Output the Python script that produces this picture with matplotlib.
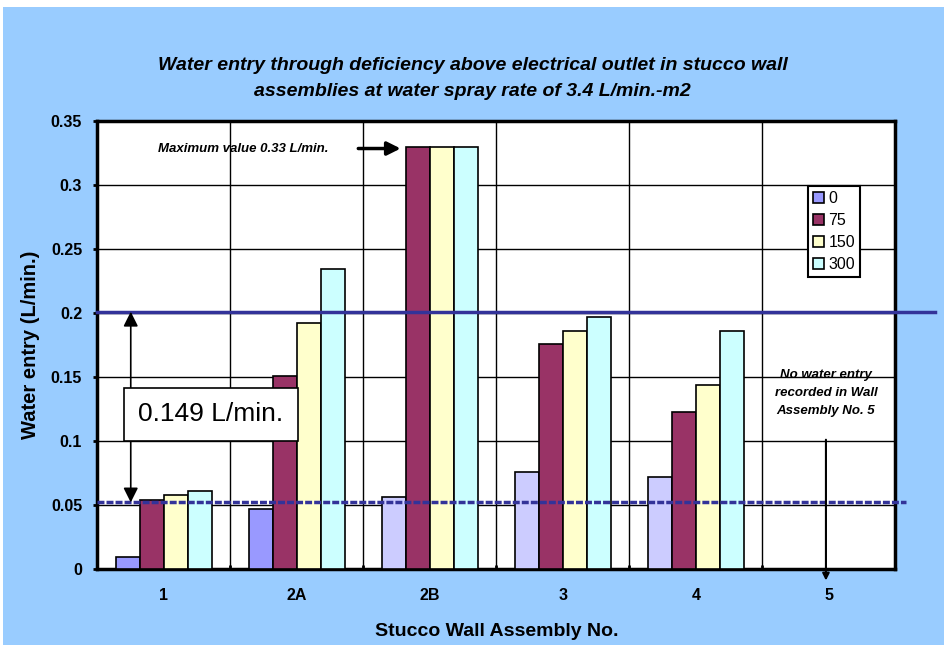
import numpy as np
import matplotlib.pyplot as plt
from matplotlib.patches import Rectangle

# данные
assemblies = ["1", "2A", "2B", "3", "4", "5"]
series_names = ["0", "75", "150", "300"]
vals_0 = [0.009, 0.047, 0.056, 0.076, 0.072, 0.0]
vals_75 = [0.054, 0.151, 0.330, 0.176, 0.123, 0.0]
vals_150 = [0.058, 0.192, 0.330, 0.186, 0.144, 0.0]
vals_300 = [0.061, 0.234, 0.330, 0.197, 0.186, 0.0]
upper_line = 0.201
lower_line = 0.052

colors = ["#9999FF", "#993366", "#FFFFCC", "#CCFFFF"]
light_0 = "#CCCCFF"

plt.rcParams["font.family"] = ["Liberation Sans", "DejaVu Sans"]

fig = plt.figure(figsize=(9.45, 6.45), dpi=100)
fig.patch.set_facecolor("white")
# голубой фон
fig.add_artist(Rectangle((3 / 945, 0), 1, 1 - 7 / 645, transform=fig.transFigure,
                         facecolor="#99CCFF", edgecolor="none", zorder=-10))

ax = fig.add_axes([97.5 / 945, 1 - 569 / 645, 798 / 945, 448 / 645])
ax.set_facecolor("white")

x = np.arange(len(assemblies))
w = 0.18
all_vals = [vals_0, vals_75, vals_150, vals_300]
for i, (name, v) in enumerate(zip(series_names, all_vals)):
    fc = colors[i]
    if i == 0:
        fc = [colors[0] if k < 2 else light_0 for k in range(len(v))]
    ax.bar(x + (i - 1.5) * w, v, width=w, color=fc, edgecolor="black",
           linewidth=1.2, label=name, zorder=3)

ax.set_xlim(-0.5, len(assemblies) - 0.5)
ax.set_ylim(0, 0.35)
ax.set_yticks(np.arange(0, 0.351, 0.05))
ax.set_yticklabels(["0", "0.05", "0.1", "0.15", "0.2", "0.25", "0.3", "0.35"])
ax.set_xticks(x)
ax.set_xticklabels(assemblies)
ax.set_xticks(x[:-1] + 0.5, minor=True)
ax.grid(True, which="minor", axis="x", color="black", linewidth=1)
ax.grid(True, which="major", axis="y", color="black", linewidth=1)
ax.set_axisbelow(True)
ax.tick_params(axis="x", which="major", length=0, pad=14)
ax.tick_params(axis="x", which="minor", length=3, direction="in", width=2)
ax.tick_params(axis="y", length=3, width=2, pad=8)
for lab in ax.get_xticklabels() + ax.get_yticklabels():
    lab.set_fontweight("bold")
    lab.set_fontsize(11.5)
for s in ax.spines.values():
    s.set_linewidth(2.5)

ax.set_xlabel("Stucco Wall Assembly No.", fontsize=14, fontweight="bold", labelpad=14)
ax.set_ylabel("Water entry (L/min.)", fontsize=14.5, fontweight="bold", labelpad=8)

fig.text(0.5, 1 - 65 / 645,
         "Water entry through deficiency above electrical outlet in stucco wall",
         ha="center", va="center", fontsize=14, fontweight="bold", style="italic")
fig.text(0.5, 1 - 92 / 645, "assemblies at water spray rate of 3.4 L/min.-m2",
         ha="center", va="center", fontsize=14, fontweight="bold", style="italic")

# горизонтальные линии
ax.plot([0, 1.0495], [upper_line, upper_line], transform=ax.get_yaxis_transform(),
        color="#333399", linewidth=2.5, clip_on=False, zorder=5)
ax.plot([0, 1.013], [lower_line, lower_line], transform=ax.get_yaxis_transform(),
        color="#333399", linewidth=2.5, linestyle=(0, (2, 0.6)), clip_on=False, zorder=5)

# двойная стрелка и подпись разницы
ax.annotate("", xy=(-0.25, upper_line), xytext=(-0.25, lower_line),
            arrowprops=dict(arrowstyle="<|-|>", color="black", lw=1.2,
                            mutation_scale=22, shrinkA=0, shrinkB=0), zorder=6)
ax.text(0.353, 0.121, "%.3f L/min." % (upper_line - lower_line), ha="center", va="center",
        fontsize=19, zorder=7,
        bbox=dict(boxstyle="square,pad=0.55", facecolor="white", edgecolor="black", lw=1.2))

# максимум
ax.text(0.594, 0.3285, "Maximum value 0.33 L/min.", ha="center", va="center",
        fontsize=9.5, fontweight="bold", style="italic", zorder=6)
ax.annotate("", xy=(1.8, 0.3285), xytext=(1.44, 0.3285),
            arrowprops=dict(arrowstyle="-|>", color="black", lw=2.5, mutation_scale=20),
            zorder=6)

# нет данных для №5
ax.text(4.977, 0.1375, "No water entry\nrecorded in Wall\nAssembly No. 5", ha="center",
        va="center", fontsize=9.5, fontweight="bold", style="italic", linespacing=1.65,
        zorder=6)
ax.annotate("", xy=(4.977, -0.009), xytext=(4.977, 0.101),
            arrowprops=dict(arrowstyle="-|>", color="black", lw=1.5, mutation_scale=10,
                            shrinkA=0, shrinkB=0), annotation_clip=False, zorder=6)

leg = ax.legend(loc="upper left", bbox_to_anchor=(0.89, 0.855), fontsize=11.5,
                frameon=True, fancybox=False, edgecolor="black", framealpha=1,
                handlelength=0.7, handleheight=0.7, handletextpad=0.3,
                borderpad=0.3, labelspacing=0.45, borderaxespad=0)
leg.get_frame().set_linewidth(1.5)
leg.set_zorder(8)

fig.savefig("out.png", dpi=100, facecolor=fig.get_facecolor())
